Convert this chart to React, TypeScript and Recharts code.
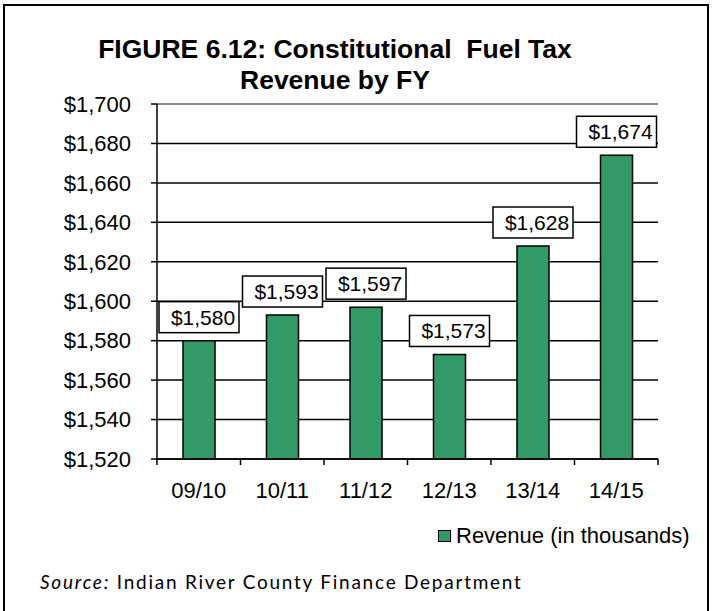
import { BarChart, Bar, XAxis, YAxis, CartesianGrid, LabelList, Legend, ReferenceLine } from "recharts";

const years = ["09/10", "10/11", "11/12", "12/13", "13/14", "14/15"];
const revenue = [1580, 1593, 1597, 1573, 1628, 1674];
const yTicks = [1520, 1540, 1560, 1580, 1600, 1620, 1640, 1660, 1680, 1700];

const data = years.map((fy, i) => ({ fy, revenue: revenue[i] }));

const money = (v: number) => "$" + v.toLocaleString("en-US");

const FONT = "'Liberation Sans', Arial, sans-serif";

function ValueBox(props: any) {
  const { x, y, width, value } = props;
  const cx = x + width / 2;
  const bottom = y - 8;
  return (
    <g>
      <rect x={cx - 40} y={bottom - 31} width={80} height={31} fill="#fff" stroke="#000" strokeWidth={1.5} />
      <text x={cx + 4} y={bottom - 8} textAnchor="middle" fontSize={21} fontFamily={FONT} fill="#000">
        {money(value)}
      </text>
    </g>
  );
}

function YearTick(props: any) {
  const { x, y, payload, index, visibleTicksCount } = props;
  const half = payload.offset || 0;
  const axisY = y - 23;
  return (
    <g>
      <line x1={x - half} x2={x - half} y1={axisY} y2={axisY + 6} stroke="#000" strokeWidth={1.5} />
      {index === visibleTicksCount - 1 && (
        <line x1={x + half} x2={x + half} y1={axisY} y2={axisY + 6} stroke="#000" strokeWidth={1.5} />
      )}
      <text x={x} y={y} dy="0.71em" textAnchor="middle" fontSize={22} fontFamily={FONT} fill="#000">
        {payload.value}
      </text>
    </g>
  );
}

function LegendBox() {
  return (
    <div style={{ display: "flex", alignItems: "center", fontFamily: FONT, fontSize: 22, color: "#000", whiteSpace: "nowrap" }}>
      <span style={{ width: 11, height: 10, background: "#339966", border: "1.5px solid #000", marginRight: 5 }} />
      Revenue (in thousands)
    </div>
  );
}

export default function App() {
  return (
    <div style={{ position: "absolute", left: 0, top: 0, width: 715, height: 611, overflow: "hidden", background: "#fff" }}>
      <div
        style={{
          position: "absolute",
          left: 0,
          width: 670,
          top: 34,
          textAlign: "center",
          fontFamily: FONT,
          fontWeight: "bold",
          fontSize: 26.5,
          lineHeight: "31px",
          whiteSpace: "pre",
          color: "#000",
        }}
      >
        {"FIGURE 6.12: Constitutional  Fuel Tax\nRevenue by FY"}
      </div>
      <div style={{ position: "absolute", left: 0, top: 0 }}>
        <BarChart
          width={715}
          height={611}
          data={data}
          margin={{ top: 104, right: 57, bottom: 122, left: 57 }}
        >
          <CartesianGrid horizontal vertical={false} stroke="#000" strokeWidth={1.5} />
          <ReferenceLine y={1700} stroke="#888" strokeWidth={2} />
          <XAxis
            dataKey="fy"
            height={30}
            axisLine={{ stroke: "#000", strokeWidth: 1.5 }}
            tickLine={false}
            tickSize={6}
            tickMargin={17}
            tick={<YearTick />}
            interval={0}
          />
          <YAxis
            width={100}
            domain={[1520, 1700]}
            ticks={yTicks}
            tickFormatter={money}
            axisLine={{ stroke: "#000", strokeWidth: 1.5 }}
            tickLine={{ stroke: "#000", strokeWidth: 1.5 }}
            tickSize={6}
            tickMargin={20}
            tick={{ fontSize: 22, fontFamily: FONT, fill: "#000" }}
            allowDataOverflow
          />
          <YAxis
            yAxisId="frame"
            orientation="right"
            width={0}
            domain={[1520, 1700]}
            tick={false}
            tickLine={false}
            axisLine={{ stroke: "#888", strokeWidth: 2 }}
          />
          <Legend
            layout="vertical"
            align="center"
            verticalAlign="middle"
            content={<LegendBox />}
            wrapperStyle={{ position: "absolute", left: 438, top: 523, width: 270 }}
          />
          <Bar
            dataKey="revenue"
            name="Revenue (in thousands)"
            fill="#339966"
            stroke="#000"
            strokeWidth={1.5}
            barSize={32}
            isAnimationActive={false}
          >
            <LabelList dataKey="revenue" content={<ValueBox />} />
          </Bar>
        </BarChart>
      </div>
      <div
        style={{
          position: "absolute",
          left: 40,
          top: 570,
          fontFamily: "Lato, 'Open Sans', sans-serif",
          fontSize: 19,
          letterSpacing: 1.75,
          color: "#000",
          whiteSpace: "pre",
        }}
      >
        <i>Source:</i>
        {" Indian River County Finance Department"}
      </div>
      <div
        style={{
          position: "absolute",
          left: 3,
          top: 4,
          width: 702,
          height: 640,
          border: "2px solid #000",
          pointerEvents: "none",
        }}
      />
    </div>
  );
}
